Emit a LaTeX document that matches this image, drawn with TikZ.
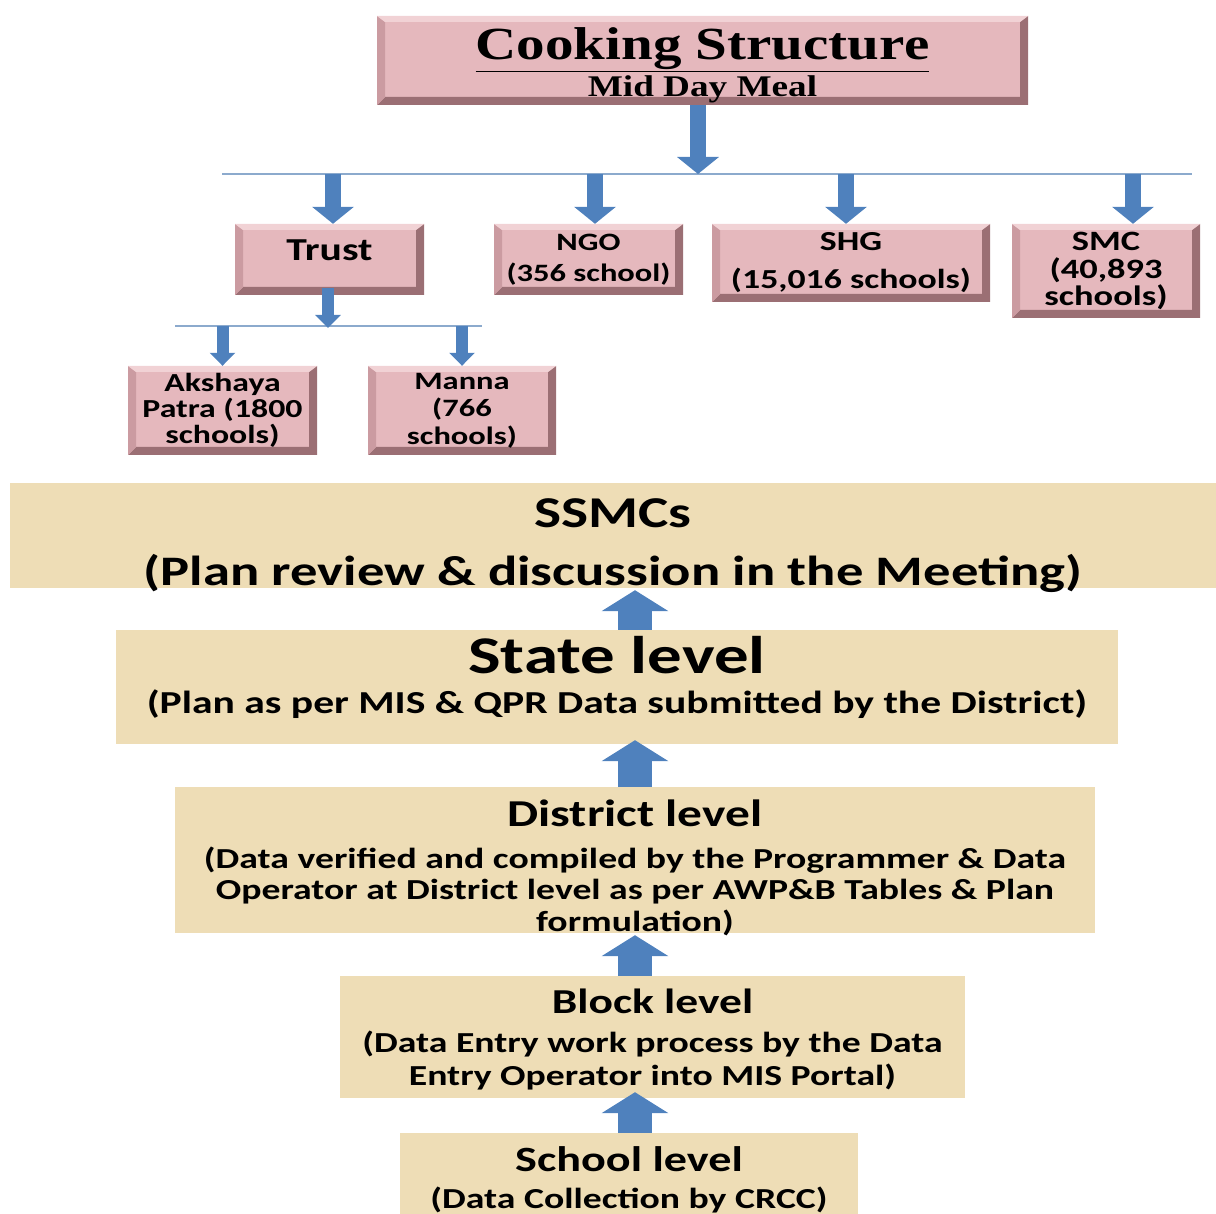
\documentclass[tikz,border=0pt]{standalone}
\usepackage{fontspec}
\setmainfont{Carlito}[FakeStretch=1.3]
\newfontfamily\titlefont{Liberation Serif}[FakeStretch=1.24]
\usetikzlibrary{arrows.meta}
\definecolor{mdmpink}{RGB}{229,184,189}
\definecolor{mdmlight}{RGB}{241,210,213}
\definecolor{mdmside}{RGB}{203,155,161}
\definecolor{mdmdark}{RGB}{155,111,116}
\definecolor{mdmbeige}{RGB}{238,221,182}
\definecolor{mdmblue}{RGB}{79,129,189}
\definecolor{mdmline}{RGB}{140,170,205}

\begin{document}
\begin{tikzpicture}[x=1pt,y=-1pt,
	pinkbox/.style={fill=mdmpink, inner sep=0pt, align=center, font=\bfseries,
		path picture={
			\fill[mdmdark] (path picture bounding box.south west) -- (path picture bounding box.south east)
				-- (path picture bounding box.north east) -- ([xshift=-8pt,yshift=-6pt]path picture bounding box.north east)
				-- ([xshift=-8pt,yshift=8pt]path picture bounding box.south east) -- ([xshift=8pt,yshift=8pt]path picture bounding box.south west) -- cycle;
			\fill[mdmside] (path picture bounding box.south west) -- ([xshift=8pt,yshift=8pt]path picture bounding box.south west)
				-- ([xshift=8pt,yshift=-6pt]path picture bounding box.north west) -- (path picture bounding box.north west) -- cycle;
			\fill[mdmlight] (path picture bounding box.north west) -- (path picture bounding box.north east)
				-- ([xshift=-8pt,yshift=-6pt]path picture bounding box.north east) -- ([xshift=8pt,yshift=-6pt]path picture bounding box.north west) -- cycle;
		}},
	beigebox/.style={fill=mdmbeige, inner sep=0pt},
	beigetext/.style={inner sep=0pt, align=center, font=\bfseries},
	downarrow/.style={draw=mdmblue, line width=16pt, -{Triangle[width=41pt,length=17pt]}},
	smallarrow/.style={draw=mdmblue, line width=12pt, -{Triangle[width=25pt,length=13pt]}},
	uparrow/.style={draw=mdmblue, line width=34pt, -{Triangle[width=66pt,length=21pt]}},
	splitline/.style={draw=mdmline, line width=1.3pt}]
	\useasboundingbox (0,0) rectangle (1216,1214);

	\node [pinkbox, minimum width=651pt, minimum height=89pt] (title) at (702.5,60.5) {};
	\node [beigetext] (titletext) at ([yshift=-5pt]title.center)
		{{\titlefont\fontsize{46}{46}\selectfont\underline{Cooking Structure}}\\[3pt]{\titlefont\fontsize{30}{30}\selectfont Mid Day Meal}};

	\coordinate (split1) at (698,174);
	\coordinate (split1w) at (222,174);
	\coordinate (split1e) at (1192,174);
	\draw [splitline] (split1w) -- (split1e);
	\draw [downarrow] (split1 |- title.south) -- (split1);

	\node [pinkbox, minimum width=189pt, minimum height=71pt, text depth=18pt, font=\bfseries\fontsize{32}{32}\selectfont] (trust) at (329.5,259.5) {Trust};
	\node [pinkbox, minimum width=189pt, minimum height=71pt, font=\bfseries\fontsize{25}{31}\selectfont] (ngo) at (588.5,259.5) {NGO\\(356 school)};
	\node [pinkbox, minimum width=278pt, minimum height=78pt, font=\bfseries\fontsize{27.5}{38}\selectfont] (shg) at (851,263) {SHG\\(15,016 schools)};
	\node [pinkbox, minimum width=188pt, minimum height=94pt, font=\bfseries\fontsize{28}{27.5}\selectfont] (smc) at (1106,271) {SMC\\(40,893\\schools)};

	\coordinate (toTrust) at (333,174);
	\coordinate (toNGO) at (595,174);
	\coordinate (toSHG) at (846,174);
	\coordinate (toSMC) at (1133,174);
	\draw [downarrow] (toTrust) -- (toTrust |- trust.north);
	\draw [downarrow] (toNGO) -- (toNGO |- ngo.north);
	\draw [downarrow] (toSHG) -- (toSHG |- shg.north);
	\draw [downarrow] (toSMC) -- (toSMC |- smc.north);

	\coordinate (split2) at (328,328);
	\coordinate (split2w) at (175,326);
	\coordinate (split2e) at (482,326);
	\draw [splitline] (split2w) -- (split2e);
	\draw [smallarrow] ([yshift=7pt]split2 |- trust.south) -- (split2);

	\node [pinkbox, minimum width=189pt, minimum height=89pt, font=\bfseries\fontsize{26}{26}\selectfont] (akshaya) at (222.5,410.5) {Akshaya\\Patra (1800\\schools)};
	\node [pinkbox, minimum width=188pt, minimum height=89pt, font=\bfseries\fontsize{25}{27.5}\selectfont] (manna) at (462,410.5) {Manna\\(766\\schools)};
	\draw [smallarrow] (split2w -| akshaya.north) -- (akshaya.north);
	\draw [smallarrow] (split2w -| manna.north) -- (manna.north);

	\node [beigebox, minimum width=1206pt, minimum height=105pt] (ssmc) at (613,535.5) {};
	\node [beigetext, font=\bfseries\fontsize{42}{46}\selectfont] (ssmctext) at ([yshift=-10pt]ssmc.center)
		{{\fontsize{44}{44}\selectfont SSMCs}\\[12pt](Plan review \& discussion in the Meeting)};
	\node [beigebox, minimum width=1002pt, minimum height=114pt] (state) at (617,687) {};
	\node [beigetext, font=\bfseries\fontsize{32}{36}\selectfont] (statetext) at ([yshift=10pt]state.center)
		{{\fontsize{53}{50}\selectfont State level}\\[4pt](Plan as per MIS \& QPR Data submitted by the District)};
	\node [beigebox, minimum width=920pt, minimum height=146pt] (district) at (635,860) {};
	\node [beigetext, font=\bfseries\fontsize{29}{31.5}\selectfont] (districttext) at ([yshift=-8pt]district.center)
		{{\fontsize{38}{38}\selectfont District level}\\[10pt](Data verified and compiled by the Programmer \& Data\\Operator at District level as per AWP\&B Tables \& Plan\\formulation)};
	\node [beigebox, minimum width=625pt, minimum height=122pt] (block) at (652.5,1037) {};
	\node [beigetext, font=\bfseries\fontsize{29}{33}\selectfont] (blocktext) at ([yshift=-2pt]block.center)
		{{\fontsize{35}{35}\selectfont Block level}\\[6pt](Data Entry work process by the Data\\Entry Operator into MIS Portal)};
	\node [beigebox, minimum width=458pt, minimum height=81pt] (school) at (629,1173.5) {};
	\node [beigetext, font=\bfseries\fontsize{29}{33}\selectfont] (schooltext) at ([yshift=-6pt]school.center)
		{{\fontsize{35.5}{35}\selectfont School level}\\[4pt](Data Collection by CRCC)};

	\coordinate (spine) at (635,0);
	\draw [uparrow] (spine |- state.north) -- ([yshift=-2pt]spine |- ssmc.south);
	\draw [uparrow] (spine |- district.north) -- ([yshift=4pt]spine |- state.south);
	\draw [uparrow] (spine |- block.north) -- ([yshift=-2pt]spine |- district.south);
	\draw [uparrow] (spine |- school.north) -- ([yshift=6pt]spine |- block.south);
\end{tikzpicture}
\end{document}
